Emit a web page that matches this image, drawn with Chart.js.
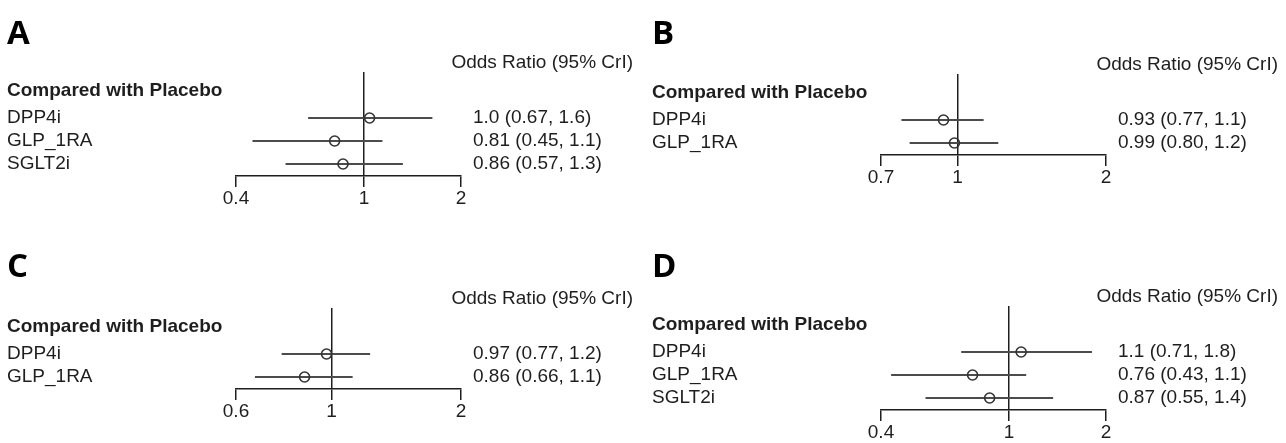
<!DOCTYPE html>
<html>
<head>
<meta charset="utf-8">
<script src="https://cdn.jsdelivr.net/npm/chart.js@4"></script>
<style>
  html, body { margin: 0; padding: 0; background: #fff; overflow: hidden; }
  body { width: 1286px; height: 443px; position: relative; }
  canvas { position: absolute; }
</style>
</head>
<body>
<canvas id="panelA" width="641" height="221" style="left:0px;top:1px"></canvas>
<canvas id="panelB" width="641" height="221" style="left:645px;top:3px"></canvas>
<canvas id="panelC" width="641" height="221" style="left:0px;top:237px"></canvas>
<canvas id="panelD" width="641" height="221" style="left:645px;top:235px"></canvas>
<script>
const headerText = "Odds Ratio (95% CrI)";
const groupText = "Compared with Placebo";

// Panel A
const drugsA = ["DPP4i", "GLP_1RA", "SGLT2i"];
const oddsA = [1.04, 0.81, 0.86];
const lowA = [0.67, 0.45, 0.57];
const highA = [1.63, 1.14, 1.32];
const textA = ["1.0 (0.67, 1.6)", "0.81 (0.45, 1.1)", "0.86 (0.57, 1.3)"];
const ticksA = [0.4, 1, 2];

// Panel B
const drugsB = ["DPP4i", "GLP_1RA"];
const oddsB = [0.937, 0.986];
const lowB = [0.77, 0.80];
const highB = [1.13, 1.21];
const textB = ["0.93 (0.77, 1.1)", "0.99 (0.80, 1.2)"];
const ticksB = [0.7, 1, 2];

// Panel C
const drugsC = ["DPP4i", "GLP_1RA"];
const oddsC = [0.974, 0.866];
const lowC = [0.766, 0.664];
const highC = [1.23, 1.12];
const textC = ["0.97 (0.77, 1.2)", "0.86 (0.66, 1.1)"];
const ticksC = [0.6, 1, 2];

// Panel D
const drugsD = ["DPP4i", "GLP_1RA", "SGLT2i"];
const oddsD = [1.09, 0.77, 0.87];
const lowD = [0.71, 0.43, 0.55];
const highD = [1.81, 1.13, 1.37];
const textD = ["1.1 (0.71, 1.8)", "0.76 (0.43, 1.1)", "0.87 (0.55, 1.4)"];
const ticksD = [0.4, 1, 2];

const ink = "#1e1e1e";
const ciColor = "#4c4c4c";
const textFont = "'Liberation Sans', Arial, sans-serif";
const letterFont = "'Open Sans', 'Liberation Sans', sans-serif";

const canvasW = 641;
const canvasH = 221;
const padLeft = 7;
const padRight = 8;
const plotLeft = 236;
const plotRight = 461;
const plotTop = 71;   // title + subtitle end here
const rowPx = 23;     // one row step on the y scale
const letterSize = 33;
const letterLine = 0.8;
const letterBlock = 47;

/**
 * Builds one forest plot panel
 */
let makePanel = function(canvasId, letter, letterTop, drugs, odds, low, high, texts, ticks) {
  let yMax = drugs.length + 1.52;
  let groupRow = 0.8;

  let datasets = [{
    data: odds.map((v, i) => ({x: v, y: i + 2})),
    pointRadius: 5,
    pointBorderWidth: 1.6,
    pointBorderColor: "#333",
    pointBackgroundColor: "rgba(0,0,0,0)",
    showLine: false
  }];

  for (let i = 0; i < drugs.length; i++) {
    datasets.push({
      data: [{x: low[i], y: i + 2}, {x: high[i], y: i + 2}],
      showLine: true,
      borderColor: ciColor,
      borderWidth: 2,
      pointRadius: 0
    });
  }

  let rowTicks = [groupRow].concat(drugs.map((d, i) => i + 2));

  return new Chart(canvasId, {
    type: "scatter",
    data: { datasets: datasets },
    options: {
      responsive: false,
      animation: false,
      events: [],
      layout: { padding: { left: padLeft, right: padRight, top: 0, bottom: 0 } },
      plugins: {
        legend: { display: false },
        tooltip: { enabled: false },
        title: {
          display: true,
          text: letter,
          align: "start",
          color: "#000",
          font: { family: letterFont, size: letterSize, weight: "bold", lineHeight: letterLine },
          padding: { top: letterTop, bottom: letterBlock - letterSize * letterLine - letterTop }
        },
        subtitle: {
          display: true,
          text: headerText,
          align: "end",
          color: ink,
          font: { family: textFont, size: 19, lineHeight: 1 },
          padding: { top: 5, bottom: 0 }
        }
      },
      scales: {
        x: {
          type: "logarithmic",
          position: "bottom",
          min: ticks[0],
          max: ticks[ticks.length - 1],
          bounds: "data",
          afterBuildTicks: function(scale) {
            scale.ticks = ticks.map(v => ({ value: v }));
          },
          afterFit: function(scale) {
            scale.height = canvasH - plotTop - rowPx * yMax;
          },
          grid: {
            color: ctx => (ctx.tick && ctx.tick.value === 1) ? ink : "rgba(0,0,0,0)",
            lineWidth: 1.5,
            drawTicks: true,
            tickLength: 11,
            tickColor: ink,
            tickWidth: 1.5
          },
          border: { display: true, color: ink, width: 1.5 },
          ticks: {
            autoSkip: false,
            maxRotation: 0,
            padding: 0,
            color: ink,
            font: { family: textFont, size: 19 },
            callback: value => String(value)
          }
        },
        y: {
          type: "linear",
          position: "left",
          reverse: true,
          min: 0,
          max: yMax,
          bounds: "data",
          afterBuildTicks: function(scale) {
            scale.ticks = rowTicks.map(v => ({ value: v }));
          },
          afterFit: function(scale) {
            scale.width = plotLeft - padLeft;
          },
          grid: { display: false, drawTicks: false },
          border: { display: false },
          ticks: {
            autoSkip: false,
            crossAlign: "far",
            color: ink,
            font: ctx => ({
              family: textFont,
              size: 19,
              weight: (ctx.tick && ctx.tick.value === groupRow) ? "bold" : "normal"
            }),
            callback: value => value === groupRow ? groupText : drugs[value - 2]
          }
        },
        yr: {
          type: "linear",
          position: "right",
          reverse: true,
          min: 0,
          max: yMax,
          bounds: "data",
          afterBuildTicks: function(scale) {
            scale.ticks = drugs.map((d, i) => ({ value: i + 2 }));
          },
          afterFit: function(scale) {
            scale.width = canvasW - padRight - plotRight;
          },
          grid: { display: false, drawTicks: false },
          border: { display: false },
          ticks: {
            autoSkip: false,
            crossAlign: "near",
            padding: 12,
            color: ink,
            font: { family: textFont, size: 19 },
            callback: value => texts[value - 2]
          }
        }
      }
    }
  });
};

makePanel("panelA", "A", 20, drugsA, oddsA, lowA, highA, textA, ticksA);
makePanel("panelB", "B", 18, drugsB, oddsB, lowB, highB, textB, ticksB);
makePanel("panelC", "C", 17, drugsC, oddsC, lowC, highC, textC, ticksC);
makePanel("panelD", "D", 19, drugsD, oddsD, lowD, highD, textD, ticksD);
</script>
</body>
</html>
